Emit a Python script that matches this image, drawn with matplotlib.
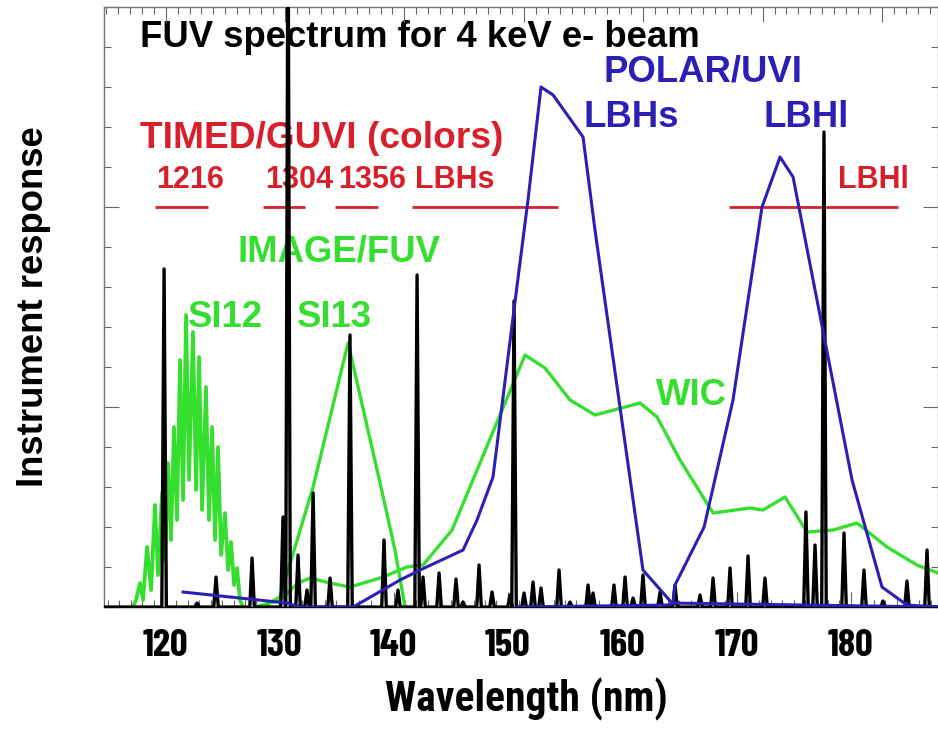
import matplotlib
matplotlib.use('Agg')
import matplotlib.pyplot as plt
from matplotlib.ticker import MultipleLocator

# ---------------- data ----------------
# black: emission lines of the 4 keV e- beam spectrum (centre nm, peak response)
line_nm = [119.87, 122.63, 124.22, 127.24, 129.83, 130.25, 131.09, 131.84, 132.35,
           133.77, 135.44, 138.29, 139.46, 141.06, 141.56, 142.90, 144.32, 144.91,
           146.25, 147.34, 148.84, 149.18, 150.02, 150.77, 151.44, 152.95, 153.87,
           155.38, 155.80, 157.55, 158.48, 159.15, 159.98, 161.41, 162.66, 164.76,
           165.85, 167.27, 168.78, 170.20, 173.63, 174.39, 175.14, 176.82, 178.49,
           180.08, 182.09, 183.77]
line_height = [1.69, 0.02, 0.15, 0.245, 0.45, 3.6, 0.26, 0.085, 0.57,
               0.145, 1.36, 0.335, 0.085, 1.66, 0.15, 0.17, 0.14, 0.025,
               0.21, 0.075, 0.06, 1.53, 0.07, 0.125, 0.095, 0.185, 0.025,
               0.11, 0.07, 0.11, 0.15, 0.045, 0.16, 0.075, 0.11, 0.06,
               0.145, 0.195, 0.255, 0.145, 0.475, 0.31, 2.375, 0.37, 0.185,
               0.03, 0.13, 0.285]

# green: IMAGE/FUV
si12_nm = [117.27, 117.52, 117.86, 118.11, 118.44, 118.78, 119.11, 119.36, 119.70,
           119.95, 120.20, 120.45, 120.70, 120.95, 121.21, 121.46, 121.71, 121.96,
           122.29, 122.55, 122.80, 123.05, 123.38, 123.63, 123.89, 124.14, 124.39,
           124.64, 124.97, 125.23, 125.48, 125.73, 125.98, 126.23, 126.48]
si12_resp = [0.0, 0.035, 0.12, 0.035, 0.30, 0.085, 0.51, 0.16, 0.57,
             0.235, 0.72, 0.335, 0.90, 0.435, 1.235, 0.535, 1.46, 0.635,
             1.375, 0.585, 1.25, 0.485, 1.10, 0.435, 0.90, 0.335, 0.80,
             0.26, 0.47, 0.185, 0.325, 0.11, 0.195, 0.035, 0.0]

si13_nm = [128.07, 129.58, 132.35, 135.28, 137.96, 139.21, 140.05]
si13_resp = [0.0, 0.05, 0.60, 1.32, 0.62, 0.285, 0.0]

wic_nm = [127.49, 129.58, 131.09, 132.09, 133.77, 135.44, 137.96, 140.22, 141.56,
          143.99, 150.10, 151.78, 153.87, 155.96, 159.73, 161.16, 163.08, 165.85,
          168.94, 170.03, 171.88, 173.72, 175.90, 177.91, 180.42, 182.93, 184.69]
wic_resp = [0.0, 0.035, 0.12, 0.145, 0.12, 0.10, 0.145, 0.20, 0.21,
            0.385, 1.26, 1.195, 1.035, 0.96, 1.02, 0.95, 0.735, 0.47,
            0.495, 0.485, 0.55, 0.375, 0.385, 0.42, 0.30, 0.21, 0.17]

# blue: POLAR/UVI
lbhs_nm = [121.46, 130.17, 131.26, 135.70, 139.63, 141.31, 144.91, 146.08, 147.42,
           149.10, 150.35, 151.44, 152.45, 154.96, 155.96, 159.98, 162.41, 184.69]
lbhs_resp = [0.075, 0.02, 0.0, 0.0, 0.135, 0.185, 0.285, 0.435, 0.65,
             1.45, 2.035, 2.60, 2.56, 2.35, 1.885, 0.185, 0.02, 0.0]

lbhl_nm = [149.43, 162.08, 162.50, 162.66, 165.10, 167.52, 169.95, 171.46, 172.55,
           177.49, 180.00, 182.09, 184.69]
lbhl_resp = [0.0, 0.01, 0.02, 0.11, 0.40, 1.035, 2.00, 2.25, 2.15,
             0.635, 0.10, 0.01, 0.0]

# red: TIMED/GUVI colour bands
guvi_labels = ['1216', '1304', '1356', 'LBHs', 'LBHl']
guvi_start = [119.11, 128.16, 134.19, 140.64, 167.19]
guvi_end = [123.55, 131.68, 137.79, 152.86, 181.34]
guvi_level = 2.0

xticks = [120, 130, 140, 150, 160, 170, 180]

# ---------------- styling ----------------
RED = '#d8202c'
BLUE = '#2b1fb5'
GREEN = '#36de30'
FONT = ['Liberation Sans', 'DejaVu Sans']
COND = ['Barlow Condensed', 'Roboto Condensed', 'Liberation Sans', 'DejaVu Sans']
COND2 = ['Roboto Condensed', 'Liberation Sans', 'DejaVu Sans']

fig = plt.figure(figsize=(9.38, 7.35), dpi=100)
ax = fig.add_axes([0.1109, 0.1741, 0.8891, 0.8164])
ax.set_xlim(114.84, 184.69)
ax.set_ylim(0, 3)

# black spectrum built from the line list (each line a narrow tent)
hw = 0.19
xs = [ax.get_xlim()[0]]
ys = [0.0]
for c, h in sorted(zip(line_nm, line_height)):
    xs += [c - hw, c, c + hw]
    ys += [0.0, h, 0.0]
xs.append(ax.get_xlim()[1])
ys.append(0.0)

ax.plot(si12_nm, si12_resp, color=GREEN, lw=2.7, zorder=2)
ax.plot(si13_nm, si13_resp, color=GREEN, lw=2.4, zorder=2)
ax.plot(wic_nm, wic_resp, color=GREEN, lw=2.4, zorder=2)
ax.hlines([guvi_level] * len(guvi_start), guvi_start, guvi_end, color=RED, lw=2.0, zorder=3)
ax.plot(xs, ys, color='black', lw=2.4, zorder=4)
ax.plot(lbhs_nm, lbhs_resp, color=BLUE, lw=2.2, zorder=5)
ax.plot(lbhl_nm, lbhl_resp, color=BLUE, lw=2.2, zorder=5)

# annotations
tkw = dict(family=FONT, weight='bold', va='baseline', ha='left', zorder=1)
ax.text(117.86, 2.80, 'FUV spectrum for 4 keV e- beam', color='black', fontsize=26.3, **tkw)
ax.text(117.86, 2.295, 'TIMED/GUVI (colors)', color=RED, fontsize=26.7, **tkw)
for lab, x in zip(guvi_labels, [119.22, 128.35, 134.47, 140.85, 176.31]):
    ax.text(x, 2.095, lab, color=RED, fontsize=22, **tkw)
ax.text(156.7, 2.625, 'POLAR/UVI', color=BLUE, fontsize=26.3, **tkw)
ax.text(155.0, 2.40, 'LBHs', color=BLUE, fontsize=26.3, **tkw)
ax.text(170.1, 2.40, 'LBHl', color=BLUE, fontsize=26.3, **tkw)
ax.text(125.98, 1.73, 'IMAGE/FUV', color=GREEN, fontsize=26.3, **tkw)
ax.text(121.85, 1.40, 'SI12', color=GREEN, fontsize=26.3, **tkw)
ax.text(131.0, 1.40, 'SI13', color=GREEN, fontsize=26.3, **tkw)
ax.text(161.1, 1.01, 'WIC', color=GREEN, fontsize=26.3, **tkw)

# main axis: ticks on all sides, no tick labels
ax.xaxis.set_major_locator(MultipleLocator(10))
ax.xaxis.set_minor_locator(MultipleLocator(1))
ax.yaxis.set_major_locator(MultipleLocator(1))
ax.yaxis.set_minor_locator(MultipleLocator(0.2))
ax.tick_params(which='both', direction='in', top=True, right=True, bottom=False,
               color='#666666', width=0.8, labelbottom=False, labelleft=False)
ax.tick_params(which='major', length=11)
ax.tick_params(which='minor', length=5)
for s in ax.spines.values():
    s.set_color('#777777')
    s.set_linewidth(1.0)
ax.spines['bottom'].set_color('black')

# wavelength labels as printed below the frame (slightly different spacing
# from the frame ticks in the original figure)
PX_PER_NM_FRAME = 11.94
PX_PER_NM_LABEL = 11.43
OFFSET_PX = 120


def frame_to_label(x):
    px = OFFSET_PX + (x - 130) * PX_PER_NM_FRAME
    return 120 + px / PX_PER_NM_LABEL


def label_to_frame(v):
    px = (v - 120) * PX_PER_NM_LABEL
    return 130 + (px - OFFSET_PX) / PX_PER_NM_FRAME


sec = ax.secondary_xaxis('bottom', functions=(frame_to_label, label_to_frame))
sec.set_xticks(xticks)
sec.xaxis.set_minor_locator(MultipleLocator(1))
sec.tick_params(which='both', direction='in', color='#666666', width=0.8, pad=16)
sec.tick_params(which='major', length=11)
sec.tick_params(which='minor', length=5)
sec.spines['bottom'].set_visible(False)
for lab in sec.get_xticklabels():
    lab.set_family(COND)
    lab.set_fontweight('bold')
    lab.set_fontsize(28)

ax.set_xlabel('Wavelength (nm)', family=COND2, fontweight='bold', fontsize=30)
ax.xaxis.set_label_coords(0.507, -0.118)
ax.set_ylabel('Instrument response', family=FONT, fontweight='bold', fontsize=26.3, labelpad=38)

fig.savefig('out.png', dpi=100)
